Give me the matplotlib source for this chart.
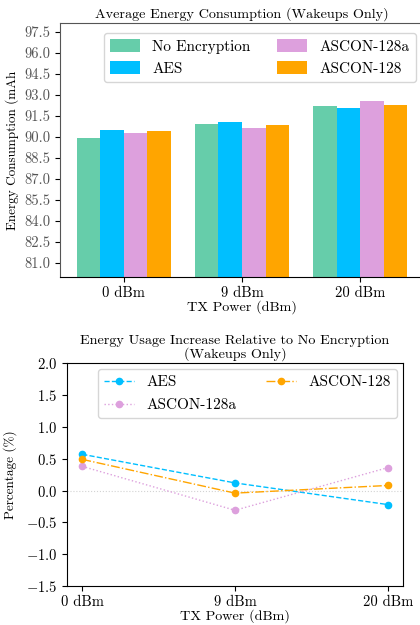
import matplotlib
matplotlib.use("Agg")
import matplotlib.pyplot as plt
import numpy as np

plt.rcParams['font.family'] = ['cmr10', 'DejaVu Serif']
plt.rcParams['mathtext.fontset'] = 'cm'
plt.rcParams['axes.formatter.use_mathtext'] = True
plt.rcParams['font.size'] = 10.5

tx_power = ["0 dBm", "9 dBm", "20 dBm"]
methods = ["No Encryption", "AES", "ASCON-128a", "ASCON-128"]
colors = ["mediumaquamarine", "deepskyblue", "plum", "orange"]

# average energy (mAh), per method, per tx power
energy = {
    "No Encryption": [89.93, 90.91, 92.19],
    "AES": [90.48, 91.05, 92.05],
    "ASCON-128a": [90.26, 90.62, 92.55],
    "ASCON-128": [90.41, 90.84, 92.26],
}

# increase relative to no encryption (%)
increase = {
    "AES": [0.57, 0.12, -0.22],
    "ASCON-128a": [0.38, -0.31, 0.36],
    "ASCON-128": [0.49, -0.04, 0.08],
}
line_styles = {"AES": "--", "ASCON-128a": ":", "ASCON-128": "-."}
line_colors = {"AES": "deepskyblue", "ASCON-128a": "plum", "ASCON-128": "orange"}

fig = plt.figure(figsize=(4.2, 6.25), dpi=100)

# --- bar chart ---
ax1 = fig.add_axes([0.1429, 0.5568, 0.8666, 0.4059])
x = np.arange(len(tx_power))
w = 0.2
for i, m in enumerate(methods):
    ax1.bar(x + (i - 1.5) * w, energy[m], w, color=colors[i], label=m)
ax1.set_xticks(x)
ax1.set_xticklabels(tx_power)
ax1.set_ylim(80.0, 98.1)
ax1.set_yticks(np.arange(81.0, 97.6, 1.5))
ax1.set_yticklabels([f"{v:.1f}" for v in np.arange(81.0, 97.6, 1.5)], color="#555555")
ax1.spines['left'].set_color("#555555")
ax1.spines['top'].set_color("#555555")
ax1.set_title("Average Energy Consumption (Wakeups Only)", fontsize=10.2, pad=4)
ax1.set_xlabel("TX Power (dBm)", fontsize=10.2, labelpad=0)
ax1.set_ylabel("Energy Consumption (mAh", fontsize=9.5, labelpad=4)
ax1.legend(loc="upper right", ncol=2, bbox_to_anchor=(0.99, 0.98), fontsize=11,
           borderaxespad=0.3, columnspacing=1.7, handleheight=0.9)

# --- percentage line chart ---
ax2 = fig.add_axes([0.1595, 0.0624, 0.8, 0.3563])
ax2.axhline(0, color="lightgray", linestyle=":", linewidth=0.8)
for m in ["AES", "ASCON-128a", "ASCON-128"]:
    ax2.plot(x, increase[m], linestyle=line_styles[m], color=line_colors[m],
             marker="o", markersize=4.5, linewidth=1, label=m)
ax2.set_xticks(x)
ax2.set_xticklabels(tx_power)
ax2.set_ylim(-1.5, 2.0)
ax2.set_title("Energy Usage Increase Relative to No Encryption\n(Wakeups Only)",
              fontsize=10.2, pad=4, linespacing=1.0)
ax2.set_xlabel("TX Power (dBm)", fontsize=10.2, labelpad=0)
ax2.set_ylabel("Percentage (%)", fontsize=9.5, labelpad=6)
ax2.legend(loc="upper right", ncol=2, fontsize=11, borderaxespad=0.4,
           columnspacing=1.9, labelspacing=0.6)

fig.savefig("out.png", dpi=100)
